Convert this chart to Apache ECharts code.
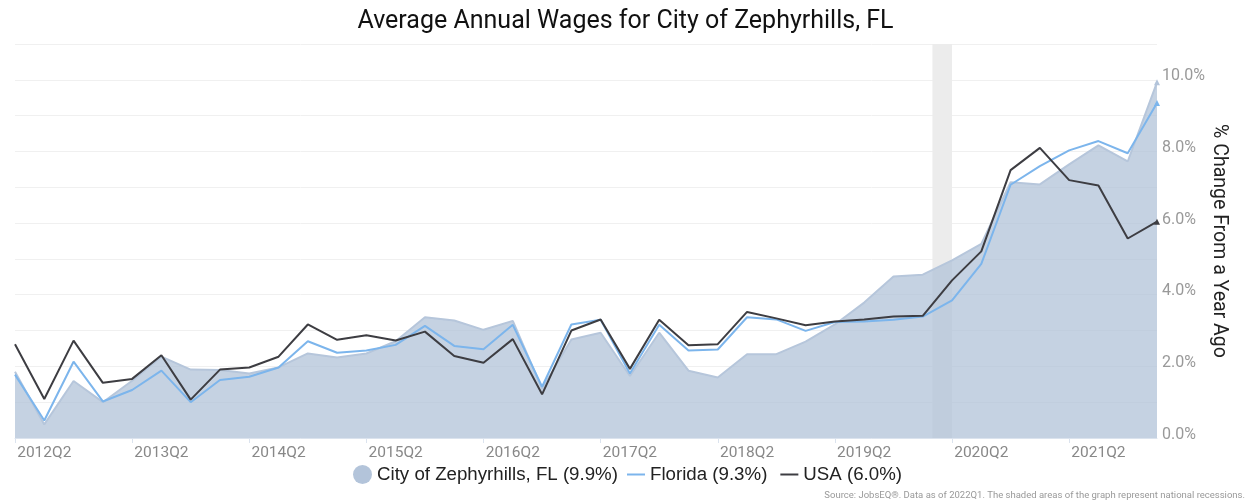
<!DOCTYPE html>
<html>
	<head>
		<meta charset="utf-8" />
		<title>Average Annual Wages for City of Zephyrhills, FL</title>
		<script src="https://cdn.jsdelivr.net/npm/echarts@6/dist/echarts.min.js"></script>
		<style>
			* {
				margin: 0;
				padding: 0;
			}
			body {
				background: #fff;
			}
		</style>
	</head>
	<body>
		<div id="main" style="width: 1251px; height: 503px"></div>
		<script>
			// quarters 2012Q1 .. 2021Q4
			var quarters = [];
			for (var y = 2012; y <= 2021; y++) {
				for (var q = 1; q <= 4; q++) quarters.push(y + 'Q' + q);
			}

			var zephyrhills = [
				1.85, 0.38, 1.59, 1.0, 1.6, 2.27, 1.91, 1.9, 1.8, 1.97,
				2.36, 2.25, 2.36, 2.7, 3.37, 3.28, 3.02, 3.27, 1.38, 2.75,
				2.94, 1.73, 2.94, 1.88, 1.69, 2.34, 2.34, 2.69, 3.17, 3.78,
				4.51, 4.56, 4.96, 5.42, 7.14, 7.08, 7.64, 8.17, 7.72, 9.93,
			];
			var florida = [
				1.77, 0.49, 2.13, 1.02, 1.34, 1.88, 1.0, 1.62, 1.71, 1.97,
				2.7, 2.38, 2.44, 2.6, 3.13, 2.57, 2.48, 3.16, 1.43, 3.17,
				3.3, 1.8, 3.16, 2.44, 2.47, 3.37, 3.31, 2.99, 3.24, 3.25,
				3.3, 3.39, 3.84, 4.86, 7.07, 7.59, 8.03, 8.29, 7.95, 9.35,
			];
			var usa = [
				2.62, 1.09, 2.72, 1.54, 1.65, 2.31, 1.07, 1.91, 1.97, 2.27,
				3.17, 2.74, 2.87, 2.72, 2.97, 2.29, 2.1, 2.76, 1.22, 3.0,
				3.31, 1.93, 3.3, 2.59, 2.62, 3.52, 3.34, 3.15, 3.25, 3.31,
				3.39, 3.41, 4.4, 5.21, 7.48, 8.1, 7.2, 7.05, 5.57, 6.04,
			];
			// recession shading, in quarter-index units (2020 Feb..Apr)
			var recession = [31.33, 32];

			var names = ['City of Zephyrhills, FL (9.9%)', 'Florida (9.3%)', 'USA (6.0%)'];

			// last point gets a small triangle
			function withEnd(arr) {
				return arr.map(function (v, i) {
					if (i === arr.length - 1) return {value: v, symbol: 'triangle', symbolSize: 6};
					return v;
				});
			}

			var legendText = {fontSize: 18.7, color: '#222', fontFamily: 'Liberation Sans'};

			var myChart = echarts.init(document.getElementById('main'));
			var option = {
				animation: false,
				textStyle: {fontFamily: 'Roboto'},
				title: [
					{
						text: 'Average Annual Wages for City of Zephyrhills, FL',
						left: 'center',
						top: 4,
						textStyle: {fontSize: 25, fontWeight: 'normal', color: '#111'},
					},
					{
						text: 'Source: JobsEQ®. Data as of 2022Q1. The shaded areas of the graph represent national recessions.',
						right: 6,
						bottom: 2,
						padding: 0,
						textStyle: {fontSize: 9.5, fontWeight: 'normal', color: '#999'},
					},
				],
				// two legends: round marker for the area, short lines for the lines
				legend: [
					{
						left: 353,
						top: 465,
						padding: 0,
						itemWidth: 19,
						itemHeight: 19,
						textStyle: legendText,
						data: [{name: names[0], icon: 'circle'}],
					},
					{
						left: 627,
						top: 465,
						padding: 0,
						itemWidth: 18,
						itemHeight: 2,
						itemGap: 13,
						textStyle: legendText,
						data: [
							{name: names[1], icon: 'rect'},
							{name: names[2], icon: 'rect'},
						],
					},
				],
				grid: {left: 15, right: 94, top: 44, bottom: 65},
				xAxis: [
					{
						type: 'category',
						boundaryGap: false,
						data: quarters,
						axisLine: {lineStyle: {color: '#dbe3ee'}},
						axisTick: {
							length: 5,
							lineStyle: {color: '#dbe3ee'},
							interval: function (i) {
								return i % 4 === 0;
							},
						},
						axisLabel: {
							color: '#888',
							fontSize: 15.5,
							margin: 7,
							interval: function (i) {
								return i % 4 === 1;
							},
						},
						splitLine: {show: false},
					},
					{
						type: 'value',
						min: 0,
						max: quarters.length - 1,
						show: false,
					},
				],
				yAxis: {
					type: 'value',
					position: 'right',
					min: 0,
					max: 11,
					interval: 1,
					name: '% Change From a Year Ago',
					nameLocation: 'middle',
					nameRotate: -90,
					nameGap: 52,
					nameMoveOverlap: false,
					nameTextStyle: {fontSize: 19.5, color: '#222'},
					axisLine: {show: false},
					axisTick: {show: false},
					axisLabel: {
						color: '#999',
						fontSize: 16,
						margin: 5,
						verticalAlign: 'bottom',
						lineHeight: 7,
						formatter: function (v) {
							return v % 2 === 0 ? v.toFixed(1) + '%' : '';
						},
					},
					splitLine: {lineStyle: {color: '#f0f0f0'}},
				},
				series: [
					{
						name: 'recession',
						type: 'line',
						xAxisIndex: 1,
						data: [],
						silent: true,
						z: 1,
						markArea: {
							silent: true,
							itemStyle: {color: '#ececec'},
							data: [[{xAxis: recession[0]}, {xAxis: recession[1]}]],
						},
					},
					{
						name: names[0],
						type: 'line',
						data: withEnd(zephyrhills),
						symbol: 'none',
						z: 2,
						color: '#b3c4da',
						lineStyle: {width: 2, color: '#b6c6db'},
						areaStyle: {color: 'rgb(178,195,216)', opacity: 0.75},
					},
					{
						name: names[1],
						type: 'line',
						data: withEnd(florida),
						symbol: 'none',
						z: 3,
						color: '#7cb5ec',
						lineStyle: {width: 2, color: '#7cb5ec'},
					},
					{
						name: names[2],
						type: 'line',
						data: withEnd(usa),
						symbol: 'none',
						z: 4,
						color: '#3d3d42',
						lineStyle: {width: 2, color: '#3d3d42'},
					},
				],
			};
			option && myChart.setOption(option);
		</script>
	</body>
</html>
